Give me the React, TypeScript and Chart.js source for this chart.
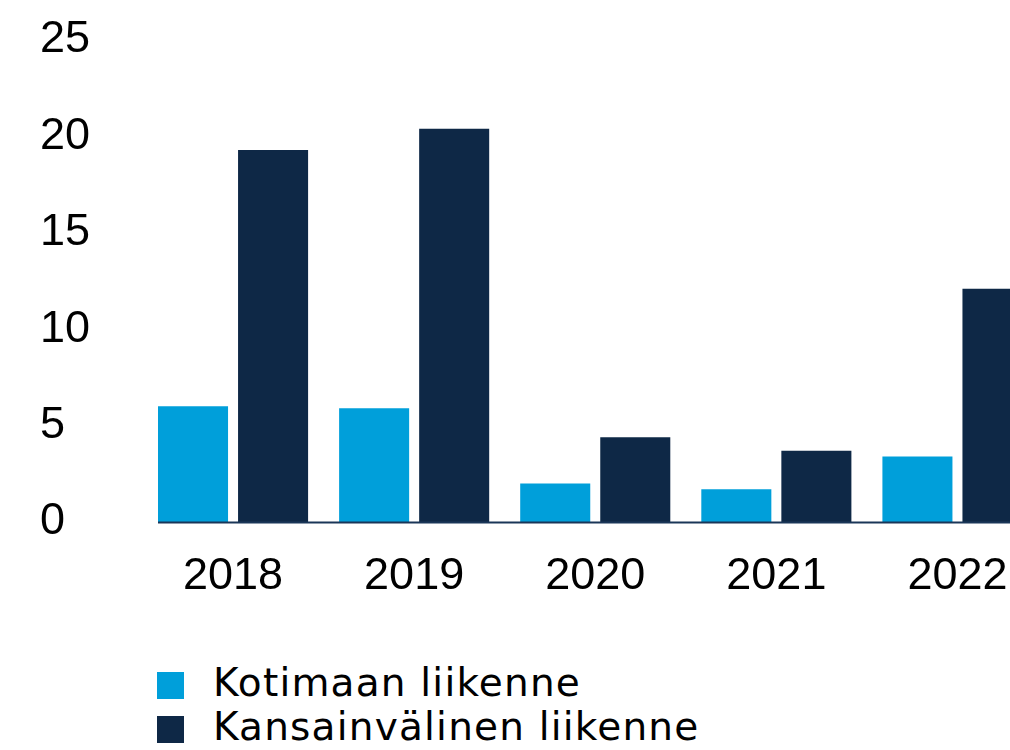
import React, { useEffect, useRef } from "react";
import { Chart, registerables } from "chart.js";

Chart.register(...registerables);

const categories = ["2018", "2019", "2020", "2021", "2022"];
const domesticValues = [6.0, 5.9, 2.0, 1.7, 3.4];
const internationalValues = [19.3, 20.4, 4.4, 3.7, 12.1];
const seriesLabels = ["Kotimaan liikenne", "Kansainvälinen liikenne"];
const seriesColors = ["#009FDA", "#0E2846"];
const yTicks = [0, 5, 10, 15, 20, 25];

const baselinePlugin = {
  id: "baseline",
  afterDatasetsDraw(chart: any) {
    const y = chart.scales.y.getPixelForValue(0);
    const first = chart.getDatasetMeta(0).data[0] as any;
    const x0 = first.x - first.width / 2;
    const ctx = chart.ctx;
    ctx.save();
    ctx.strokeStyle = "#1A3658";
    ctx.lineWidth = 2;
    ctx.beginPath();
    ctx.moveTo(x0, y + 0.5);
    ctx.lineTo(chart.width, y + 0.5);
    ctx.stroke();
    ctx.restore();
  },
};

export default function App() {
  const ref = useRef<HTMLCanvasElement>(null);

  useEffect(() => {
    if (!ref.current) return;
    const chart = new Chart(ref.current, {
      type: "bar",
      data: {
        labels: categories,
        datasets: [
          {
            label: seriesLabels[0],
            data: domesticValues,
            backgroundColor: seriesColors[0],
            categoryPercentage: 0.884,
            barPercentage: 0.875,
          },
          {
            label: seriesLabels[1],
            data: internationalValues,
            backgroundColor: seriesColors[1],
            categoryPercentage: 0.884,
            barPercentage: 0.875,
          },
        ],
      },
      options: {
        responsive: false,
        animation: false,
        devicePixelRatio: 1,
        layout: { padding: { left: 40, top: 40, right: 0, bottom: 0 } },
        plugins: {
          legend: { display: false },
          tooltip: { enabled: false },
        },
        scales: {
          x: {
            grid: { display: false },
            border: { display: false },
            ticks: {
              color: "#000",
              padding: 20,
              font: { family: "'Liberation Sans', Arial, sans-serif", size: 45 },
            },
            afterFit(scale: any) {
              scale.height = 98;
            },
          },
          y: {
            min: 0,
            max: 25,
            grid: { display: false },
            border: { display: false },
            afterBuildTicks(scale: any) {
              scale.ticks = yTicks.map((v) => ({ value: v }));
            },
            afterFit(scale: any) {
              scale.width = 102.5;
            },
            ticks: {
              color: "#000",
              crossAlign: "far",
              font: { family: "'Liberation Sans', Arial, sans-serif", size: 45 },
            },
          },
        },
      },
      plugins: [baselinePlugin],
    });
    return () => chart.destroy();
  }, []);

  const legendFont: React.CSSProperties = {
    position: "absolute",
    left: 213,
    fontFamily: "'DejaVu Sans', sans-serif",
    fontSize: 39,
    letterSpacing: "1.2px",
    lineHeight: "44px",
    color: "#000",
    whiteSpace: "nowrap",
  };

  return (
    <div
      style={{
        position: "absolute",
        left: 0,
        top: 0,
        width: 1010,
        height: 750,
        overflow: "hidden",
        background: "#fff",
      }}
    >
      <canvas ref={ref} width={1048} height={620} style={{ display: "block" }} />
      <div style={{ position: "absolute", left: 157, top: 672, width: 27, height: 27, background: seriesColors[0] }} />
      <div style={{ position: "absolute", left: 157, top: 716, width: 27, height: 27, background: seriesColors[1] }} />
      <div style={{ ...legendFont, top: 661 }}>{seriesLabels[0]}</div>
      <div style={{ ...legendFont, top: 705 }}>{seriesLabels[1]}</div>
    </div>
  );
}
